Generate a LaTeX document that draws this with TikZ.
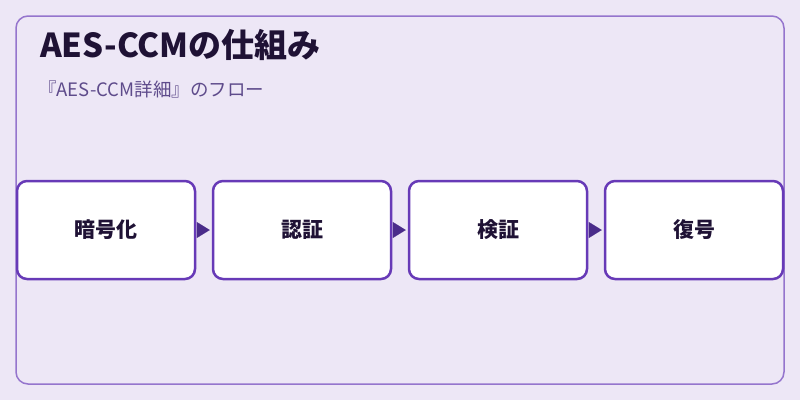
\documentclass[tikz,border=0pt]{standalone}
\usepackage{fontspec}
\setmainfont{Noto Sans CJK JP}
\usetikzlibrary{arrows.meta}
\definecolor{bgpurple}{HTML}{EDE7F6}
\definecolor{framepurple}{HTML}{9575CD}
\definecolor{boxpurple}{HTML}{673AB7}
\definecolor{arrowpurple}{HTML}{4A2C8A}
\definecolor{inkpurple}{HTML}{1F1235}
\definecolor{subpurple}{HTML}{5E4B8B}
\begin{document}
\begin{tikzpicture}[x=1pt, y=-1pt,
    stagebox/.style={draw=boxpurple, line width=2.5pt, fill=white, rounded corners=10pt,
      minimum width=178pt, minimum height=98pt, text=inkpurple,
      font=\fontsize{21}{25}\selectfont\bfseries},
    flowarrow/.style={arrowpurple, line width=0.1pt, -{Triangle[length=13pt, width=16pt]}, shorten <=2pt, shorten >=2pt}]
      % Background
      \fill[bgpurple] (0,0) rectangle (800,400);
      \useasboundingbox (0,0) rectangle (800,400);
      \draw[framepurple, line width=1.5pt, rounded corners=12pt] (16,16) rectangle (784,384);

      % Labels
      \node[anchor=base west, inner sep=0pt, text=inkpurple, font=\fontsize{33}{39}\selectfont\bfseries] (title) at (40,57) {AES-CCMの仕組み};
      \node[anchor=base west, inner sep=0pt, text=subpurple, font=\fontsize{18.5}{22}\selectfont] (subtitle) at (38,96) {『AES-CCM詳細』のフロー};

      % Boxes
      \node[stagebox] (encrypt) at (106,230) {暗号化};
      \node[stagebox] (auth) at (302,230) {認証};
      \node[stagebox] (verify) at (498,230) {検証};
      \node[stagebox] (decrypt) at (694,230) {復号};

      % Arrows
      \draw[flowarrow] (encrypt) -- (auth);
      \draw[flowarrow] (auth) -- (verify);
      \draw[flowarrow] (verify) -- (decrypt);
    \end{tikzpicture}
\end{document}
